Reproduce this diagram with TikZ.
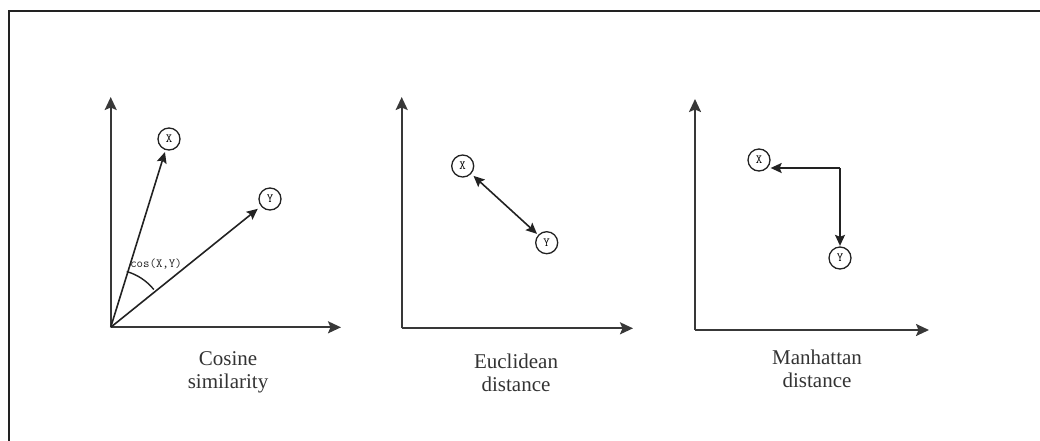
\documentclass[tikz,border=0pt]{standalone}
\usepackage{fontspec}
\setmainfont{Liberation Serif}
\usetikzlibrary{arrows.meta}
\definecolor{ink}{HTML}{222222}
\definecolor{axisgray}{HTML}{383838}
\definecolor{capgray}{HTML}{333333}
\begin{document}
\begin{tikzpicture}[x=1pt,y=1pt,
 framelines/.style={draw=ink, line width=2.2pt},
 axisline/.style={draw=axisgray, line width=2pt, -{Stealth[length=13pt,width=12pt,inset=2.5pt]}},
 vecline/.style={draw=ink, line width=1.6pt, -{Stealth[length=11pt,width=10pt,inset=2pt]}},
 dvecline/.style={draw=ink, line width=1.6pt, {Stealth[length=11pt,width=10pt,inset=2pt]}-{Stealth[length=11pt,width=10pt,inset=2pt]}},
 ptnode/.style={circle, draw=ink, line width=1.3pt, minimum size=22pt, inner sep=0pt, fill=white, font=\ttfamily\fontsize{12.5}{12.5}\selectfont},
 captext/.style={align=center, text=capgray, font=\fontsize{21}{23}\selectfont},
 lbltext/.style={inner sep=0pt, text=ink, font=\ttfamily\fontsize{12.5}{12.5}\selectfont}
]
\useasboundingbox (0,0) rectangle (1040,-440);
% frame
\coordinate (fb) at (9,-441);
\coordinate (fc) at (9,-11);
\coordinate (fr) at (1041,-11);
\draw[framelines] (fb) -- (fc) -- (fr);

% ---------- Cosine similarity ----------
\coordinate (O1) at (110.7,-327.3);
\coordinate (T1) at (110.7,-97);
\coordinate (R1) at (341,-327.3);
\draw[axisline] (O1) -- (T1);
\draw[axisline] (O1) -- (R1);
\node[ptnode] (X1) at (169,-139) {X};
\node[ptnode] (Y1) at (270,-199) {Y};
\draw[vecline, shorten >=2pt] (O1) -- (X1);
\draw[vecline, shorten >=4pt] (O1) -- (Y1);
\draw[ink, line width=1.4pt] ([shift={(74:58)}]O1) arc[start angle=74, end angle=38.9, radius=54];
\node[lbltext] (c1) at (156,-264) {cos(X,Y)};
\node[captext] (cap1) at (228,-372.5) {Cosine\\similarity};

% ---------- Euclidean distance ----------
\coordinate (O2) at (401.7,-328.3);
\coordinate (T2) at (401.7,-97);
\coordinate (R2) at (633,-328.3);
\draw[axisline] (O2) -- (T2);
\draw[axisline] (O2) -- (R2);
\node[ptnode] (X2) at (462.7,-166) {X};
\node[ptnode] (Y2) at (546.7,-242.7) {Y};
\draw[dvecline, shorten <=3pt, shorten >=1.5pt] (X2) -- (Y2);
\node[captext] (cap2) at (516,-372.5) {Euclidean\\distance};

% ---------- Manhattan distance ----------
\coordinate (O3) at (695,-330);
\coordinate (T3) at (695,-99);
\coordinate (R3) at (929,-330);
\draw[axisline] (O3) -- (T3);
\draw[axisline] (O3) -- (R3);
\node[ptnode] (X3) at (759,-160) {X};
\node[ptnode] (Y3) at (840,-258) {Y};
\coordinate (K3) at (840,-168);
\draw[vecline] (K3) -- (K3 -| X3.east);
\draw[vecline, shorten >=0.5pt] (K3) -- (Y3);
\node[captext] (cap3) at (817,-368.5) {Manhattan\\distance};
\end{tikzpicture}
\end{document}
